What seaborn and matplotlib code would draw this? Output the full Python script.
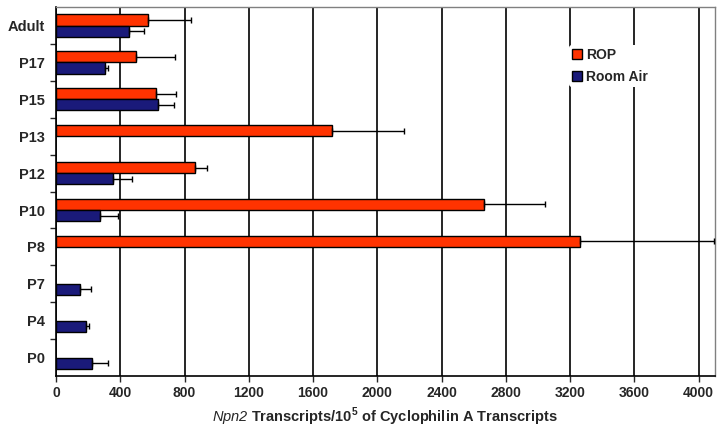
import numpy as np
import pandas as pd
import seaborn as sns
from matplotlib import pyplot as plt
from matplotlib.ticker import MultipleLocator, FixedLocator

ages = ["Adult", "P17", "P15", "P13", "P12", "P10", "P8", "P7", "P4", "P0"]
rop = [572, 500, 620, 1715, 866, 2662, 3263, np.nan, np.nan, np.nan]
rop_err = [268, 240, 126, 449, 71, 379, 835, np.nan, np.nan, np.nan]
room_air = [452, 303, 634, np.nan, 352, 274, np.nan, 149, 185, 224]
room_air_err = [93, 18, 98, np.nan, 122, 110, np.nan, 69, 20, 97]

groups = ["ROP", "Room Air"]
colors = {"ROP": "#ff3300", "Room Air": "#1a1a7a"}

df = pd.concat([
    pd.DataFrame({"Age": ages, "Value": rop, "Err": rop_err, "Group": "ROP"}),
    pd.DataFrame({"Age": ages, "Value": room_air, "Err": room_air_err, "Group": "Room Air"}),
])

sns.set_style("white")
plt.rcParams["font.family"] = ["Liberation Sans", "DejaVu Sans"]
plt.rcParams["mathtext.fontset"] = "custom"
plt.rcParams["mathtext.rm"] = "Liberation Sans:bold"
plt.rcParams["mathtext.sf"] = "Liberation Sans:italic"

fig = plt.figure(figsize=(7.22, 4.44), dpi=100)
ax = fig.add_axes([0.0776, 0.153, 0.9124, 0.831])

bar_w = 0.6
sns.barplot(data=df.dropna(subset=["Value"]), x="Value", y="Age", hue="Group",
            order=ages, hue_order=groups, palette=colors, orient="h",
            width=bar_w, edgecolor="black", linewidth=1, errorbar=None,
            saturation=1, ax=ax, zorder=3)

# error bars at the dodged category positions
for gi, (vals, errs) in enumerate([(rop, rop_err), (room_air, room_air_err)]):
    off = (gi - 0.5) * bar_w / 2
    for i in range(len(ages)):
        if np.isnan(vals[i]):
            continue
        ax.errorbar(vals[i] + errs[i] / 2, i + off, xerr=errs[i] / 2, fmt="none",
                    ecolor="black", elinewidth=1, capsize=2.5, capthick=1, zorder=4)

ax.set_xlim(0, 4100)
ax.set_ylim(9.5, -0.5)
ax.xaxis.set_major_locator(MultipleLocator(400))
ax.grid(axis="x", color="black", linewidth=1.2, zorder=0)
ax.set_axisbelow(True)

ax.yaxis.set_minor_locator(FixedLocator(np.arange(0.5, 9.5, 1)))
ax.tick_params(axis="y", which="major", length=0, pad=8, labelsize=10.5)
ax.tick_params(axis="y", which="minor", length=4, width=1, direction="out", left=True)
ax.tick_params(axis="x", length=4, width=1, direction="out", bottom=True, labelsize=10)
for lab in ax.get_xticklabels() + ax.get_yticklabels():
    lab.set_fontweight("bold")

for s in ["left", "bottom"]:
    ax.spines[s].set_color("black")
    ax.spines[s].set_linewidth(1.2)
for s in ["top", "right"]:
    ax.spines[s].set_color("#808080")
    ax.spines[s].set_linewidth(1)

ax.set_ylabel("")
ax.set_xlabel(r"$\mathsf{Npn2}$ Transcripts/10$^5$ of Cyclophilin A Transcripts",
              fontsize=10.5, fontweight="bold", labelpad=4)

leg = ax.legend(loc="upper left", bbox_to_anchor=(0.768, 0.915), frameon=True,
                facecolor="white", edgecolor="none", framealpha=1,
                prop={"weight": "bold", "size": 10}, handlelength=0.75,
                handleheight=0.75, handletextpad=0.3, labelspacing=0.55,
                borderpad=0.2)
for h in leg.legend_handles:
    h.set_edgecolor("black")

fig.savefig("out.png", dpi=100)
